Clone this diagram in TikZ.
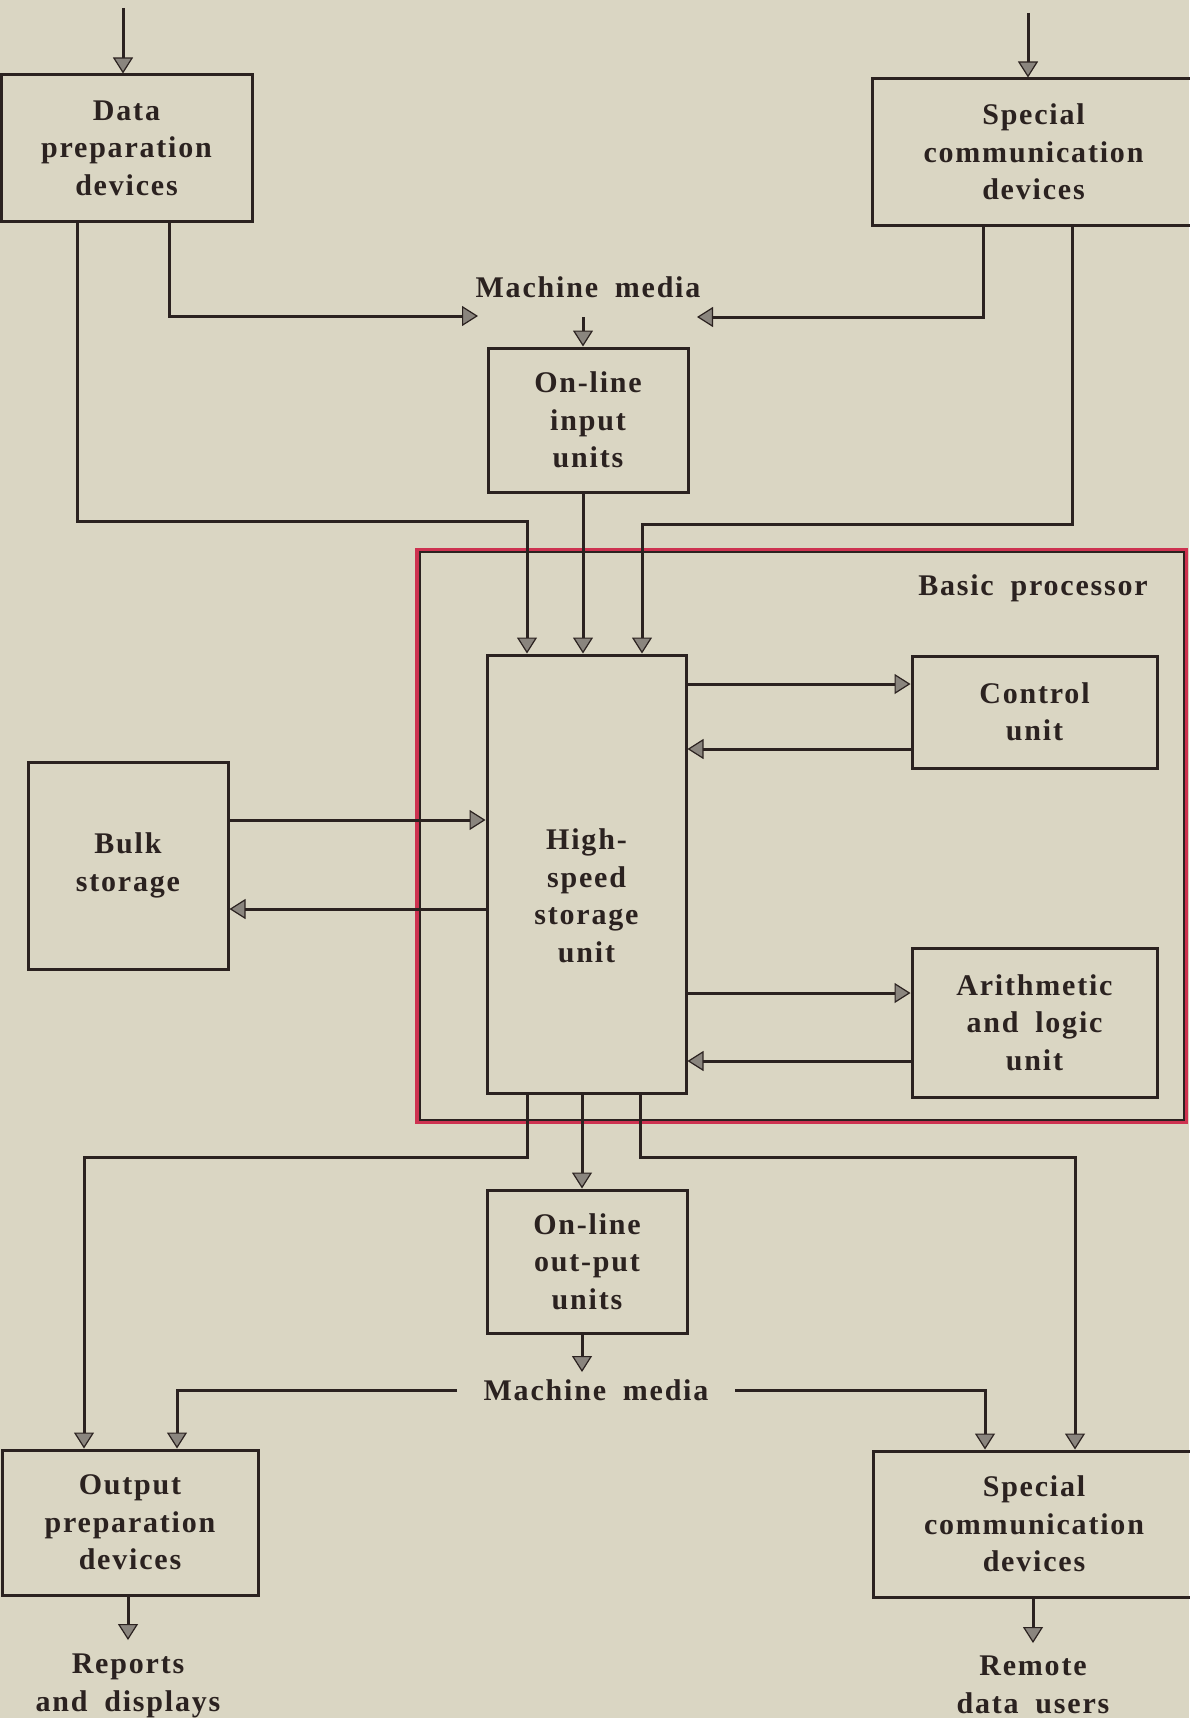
\documentclass[tikz,border=0pt]{standalone}
\usepackage{fontspec}
\setmainfont{Liberation Serif}[LetterSpace=6,WordSpace=1.8]
\usetikzlibrary{arrows.meta}
\definecolor{bg}{RGB}{218,214,195}
\definecolor{ink}{RGB}{43,34,32}
\definecolor{tipgray}{RGB}{138,133,126}
\definecolor{redline}{RGB}{205,50,80}
\newcommand\boxfont{\bfseries\fontsize{30}{37.5}\selectfont}
\tikzset{
  box/.style={draw=ink, line width=3pt, rectangle, inner sep=0pt, align=center, font=\boxfont, text=ink},
  lbl/.style={align=center, font=\boxfont, text=ink, inner sep=0pt},
  conn/.style={draw=ink, line width=3pt, -{Triangle[length=16pt,width=20pt,fill=tipgray,line width=1.2pt]}},
}
\begin{document}
\begin{tikzpicture}[x=1pt,y=-1pt]
\fill[bg] (0,0) rectangle (1189,1718);
\useasboundingbox (0,0) rectangle (1189,1718);

% basic processor frame
\draw[redline, line width=4.5pt] (417,550) rectangle (1186,1122);
\draw[ink, line width=1.8pt] (420,552) rectangle (1184,1120);
\node[lbl] (bp) at (1033,588) {Basic processor};

% boxes
\node[box, minimum width=251pt, minimum height=146pt] (dp) at (126.5,148) {Data\\preparation\\devices};
\node[box, minimum width=323pt, minimum height=146pt] (sct) at (1033.5,152) {Special\\communication\\devices};
\node[lbl] (mm1) at (588,287) {Machine media};
\node[box, minimum width=200pt, minimum height=144pt] (oli) at (588,420) {On-line\\input\\units};
\node[box, minimum width=199pt, minimum height=438pt,
      label={[lbl, yshift=-22pt]center:{High-\\speed\\storage\\unit}}] (hss) at (586.5,874) {};
\node[box, minimum width=245pt, minimum height=112pt] (cu) at (1034.5,712) {Control\\unit};
\node[box, minimum width=245pt, minimum height=149pt] (alu) at (1034.5,1022.5) {Arithmetic\\and logic\\unit};
\node[box, minimum width=200pt, minimum height=207pt] (bulk) at (128,865.5) {Bulk\\storage};
\node[box, minimum width=200pt, minimum height=143pt] (olo) at (587,1261.5) {On-line\\out-put\\units};
\node[lbl] (mm2) at (596,1390) {Machine media};
\node[box, minimum width=256pt, minimum height=145pt] (opd) at (130,1522.5) {Output\\preparation\\devices};
\node[box, minimum width=322pt, minimum height=146pt] (scb) at (1034,1524) {Special\\communication\\devices};
\node[lbl] (rep) at (128,1686) {Reports\\and displays};
\node[lbl] (rem) at (1033,1685) {Remote\\data users};

% coordinates
\coordinate (inTL) at (123,8);
\coordinate (inTR) at (1028,13);
\coordinate (a1) at (169,316);
\coordinate (mmL) at (478,316);
\coordinate (e1) at (983,317);
\coordinate (mmR) at (697,317);
\coordinate (m1) at (583,317);
\coordinate (b1) at (77,521);
\coordinate (b2) at (527,521);
\coordinate (c1) at (583,0);
\coordinate (d1) at (1072,524);
\coordinate (d2) at (642,524);
\coordinate (y1) at (0,684);
\coordinate (y2) at (0,749);
\coordinate (y3) at (0,993);
\coordinate (y4) at (0,1061);
\coordinate (y5) at (0,820);
\coordinate (y6) at (0,909);
\coordinate (f1) at (527,1157);
\coordinate (f2) at (84,1157);
\coordinate (g1) at (582,0);
\coordinate (h1) at (640,1157);
\coordinate (h2) at (1075,1157);
\coordinate (m2) at (582,1372);
\coordinate (k1) at (457,1390);
\coordinate (k2) at (177,1390);
\coordinate (l1) at (735,1390);
\coordinate (l2) at (985,1390);
\coordinate (n1) at (128,1640);
\coordinate (n2) at (1033,1643);

% connectors
\draw[conn] (inTL) -- (inTL |- dp.north);
\draw[conn] (inTR) -- (inTR |- sct.north);
\draw[conn] (dp.south -| a1) -- (a1) -- (mmL);
\draw[conn] (sct.south -| e1) -- (e1) -- (mmR);
\draw[conn] (m1) -- (m1 |- oli.north);
\draw[conn] (dp.south -| b1) -- (b1) -- (b2) -- (b2 |- hss.north);
\draw[conn] (oli.south -| c1) -- (c1 |- hss.north);
\draw[conn] (sct.south -| d1) -- (d1) -- (d2) -- (d2 |- hss.north);
\draw[conn] (hss.east |- y1) -- (cu.west |- y1);
\draw[conn] (cu.west |- y2) -- (hss.east |- y2);
\draw[conn] (hss.east |- y3) -- (alu.west |- y3);
\draw[conn] (alu.west |- y4) -- (hss.east |- y4);
\draw[conn] (bulk.east |- y5) -- (hss.west |- y5);
\draw[conn] (hss.west |- y6) -- (bulk.east |- y6);
\draw[conn] (hss.south -| f1) -- (f1) -- (f2) -- (f2 |- opd.north);
\draw[conn] (hss.south -| g1) -- (g1 |- olo.north);
\draw[conn] (hss.south -| h1) -- (h1) -- (h2) -- (h2 |- scb.north);
\draw[conn] (olo.south -| m2) -- (m2);
\draw[conn] (k1) -- (k2) -- (k2 |- opd.north);
\draw[conn] (l1) -- (l2) -- (l2 |- scb.north);
\draw[conn] (opd.south -| n1) -- (n1);
\draw[conn] (scb.south -| n2) -- (n2);
\end{tikzpicture}
\end{document}
